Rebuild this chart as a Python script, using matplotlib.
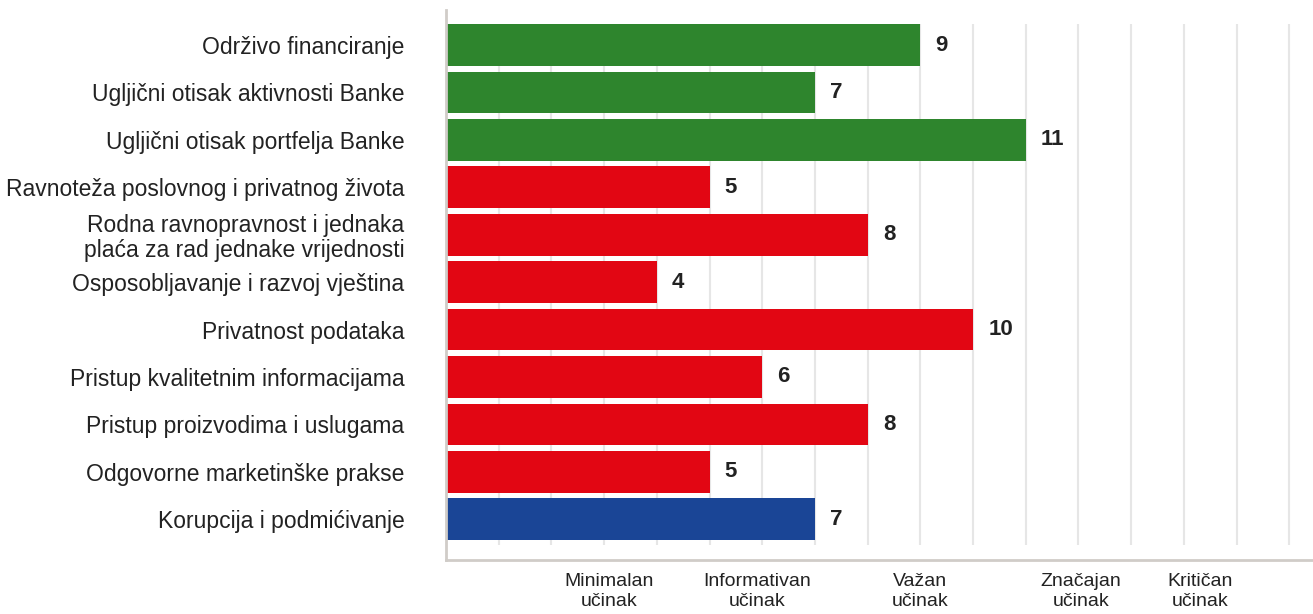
import matplotlib
matplotlib.use("Agg")
import matplotlib.pyplot as plt
from matplotlib import font_manager

categories = [
    "Održivo financiranje",
    "Ugljični otisak aktivnosti Banke",
    "Ugljični otisak portfelja Banke",
    "Ravnoteža poslovnog i privatnog života",
    "Rodna ravnopravnost i jednaka\nplaća za rad jednake vrijednosti",
    "Osposobljavanje i razvoj vještina",
    "Privatnost podataka",
    "Pristup kvalitetnim informacijama",
    "Pristup proizvodima i uslugama",
    "Odgovorne marketinške prakse",
    "Korupcija i podmićivanje",
]
values = [9, 7, 11, 5, 8, 4, 10, 6, 8, 5, 7]
groups = ["E", "E", "E", "S", "S", "S", "S", "S", "S", "S", "G"]
group_colors = {"E": "#2E852D", "S": "#E20613", "G": "#1A4596"}

tick_labels = ["Minimalan\nučinak", "Informativan\nučinak", "Važan\nučinak",
               "Značajan\nučinak", "Kritičan\nučinak"]
tick_positions = [3.1, 5.9, 9.0, 12.05, 14.3]
grid_positions = list(range(1, 17))

names = {f.name for f in font_manager.fontManager.ttflist}
narrow = "Liberation Sans Narrow" if "Liberation Sans Narrow" in names else "Liberation Sans"

plt.rcParams["font.family"] = ["Liberation Sans", "DejaVu Sans"]

fig = plt.figure(figsize=(13.13, 6.14), dpi=100)
ax = fig.add_axes([446 / 1313, 54 / 614, 1 - 446 / 1313, 550 / 614])

y = list(range(len(categories)))
ax.vlines(grid_positions, -0.45, len(categories) - 0.45, colors="#e6e6e6",
          linewidth=1.5, zorder=0)
bars = ax.barh(y, values, height=0.88, color=[group_colors[g] for g in groups],
               zorder=2)

for yi, v in zip(y, values):
    ax.annotate(str(v), xy=(v, yi), xytext=(11, 0), textcoords="offset points",
                ha="left", va="center", fontsize=16, fontweight="bold",
                color="#222222")

ax.set_xlim(0, 16.45)
ax.set_ylim(10.86, -0.74)
ax.set_yticks(y)
ax.set_yticklabels(categories, fontsize=16.5, color="#222222",
                   linespacing=1.1)
ax.tick_params(axis="y", length=0, pad=30)
ax.set_xticks(tick_positions)
ax.set_xticklabels(tick_labels, fontsize=14, color="#222222",
                   family=[narrow, "DejaVu Sans"], linespacing=1.3)
ax.tick_params(axis="x", length=0, pad=9)

for s in ["top", "right"]:
    ax.spines[s].set_visible(False)
for s in ["left", "bottom"]:
    ax.spines[s].set_color("#d0ccc8")
    ax.spines[s].set_linewidth(2)

fig.savefig("out.png", dpi=100)
